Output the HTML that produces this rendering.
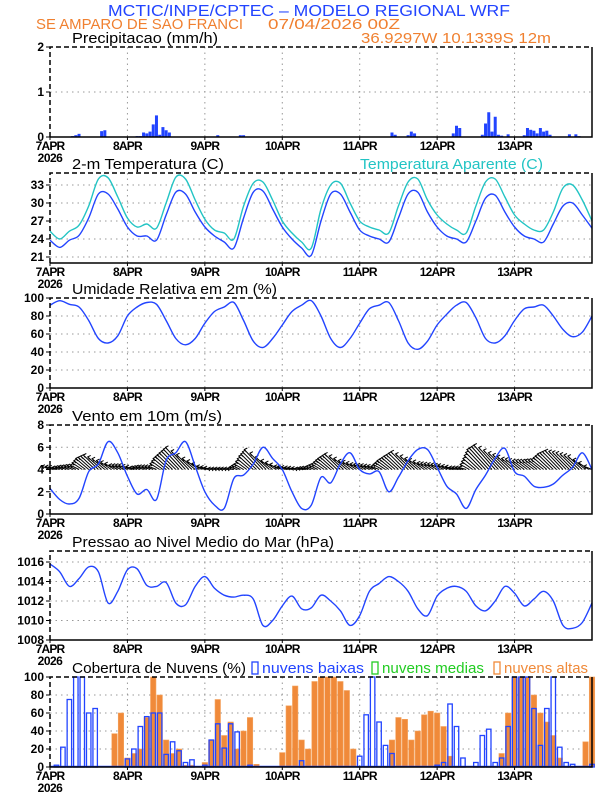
<!DOCTYPE html>
<html><head><meta charset="utf-8"><style>
html,body{margin:0;padding:0;background:#fff;}
svg{display:block;font-family:"Liberation Sans",sans-serif;}
</style></head><body>
<svg id="chart" width="612" height="792" viewBox="0 0 612 792" xmlns="http://www.w3.org/2000/svg">
<text x="108" y="16" fill="#2244ff" font-size="16" textLength="402" lengthAdjust="spacingAndGlyphs">MCTIC/INPE/CPTEC – MODELO REGIONAL WRF</text>
<text x="36" y="29" fill="#f08030" font-size="15" textLength="207" lengthAdjust="spacingAndGlyphs">SE AMPARO DE SAO FRANCI</text>
<text x="268" y="29" fill="#f08030" font-size="15" textLength="132" lengthAdjust="spacingAndGlyphs">07/04/2026 00Z</text>
<text x="361" y="43" fill="#f08030" font-size="15" textLength="190" lengthAdjust="spacingAndGlyphs">36.9297W 10.1339S 12m</text>
<g id="plots"></g>
</svg>
<script>
// ---- data ----
const dayLabels = ["7APR","8APR","9APR","10APR","11APR","12APR","13APR"];
const precipHour = [7,8,9,16,17,27,28,29,30,31,32,33,34,35,36,37,52,59,60,106,107,111,112,113,125,126,127,134,135,136,137,138,139,140,142,147,148,149,150,151,152,153,154,155,161,163,164];
const precipValue = [0.02,0.04,0.07,0.13,0.15,0.02,0.02,0.1,0.08,0.12,0.28,0.48,0.05,0.22,0.15,0.1,0.04,0.04,0.04,0.1,0.05,0.04,0.12,0.08,0.08,0.25,0.2,0.05,0.3,0.55,0.12,0.45,0.05,0.03,0.06,0.04,0.2,0.16,0.14,0.08,0.2,0.12,0.14,0.05,0.06,0.06,0.02];
const temp2m = [23.8,22.6,23.8,24.6,27.5,31.5,31.5,29.0, 26.0,24.5,24.5,23.8,28.0,31.8,31.5,28.5, 26.0,24.5,23.5,22.5,27.5,31.8,32.0,29.0, 26.0,24.0,22.5,21.3,27.0,31.5,31.5,28.5, 25.5,24.5,24.0,23.5,27.5,31.5,31.8,28.5, 26.0,24.5,24.0,23.5,27.0,30.8,31.3,28.5, 26.0,24.5,24.0,23.5,26.5,29.5,30.0,28.0, 25.8];
const tempApparent = [25.3,24.0,25.3,26.3,29.5,34.0,34.2,31.0, 27.5,26.0,26.5,25.8,30.0,34.3,34.0,30.5, 27.3,25.5,25.0,24.0,29.5,33.3,33.5,30.5, 27.0,25.0,23.5,22.5,29.0,33.0,33.3,30.0, 27.0,26.0,25.5,25.0,29.5,33.5,34.0,30.5, 28.0,26.5,25.5,25.0,29.5,33.5,34.0,31.0, 28.0,26.5,25.5,25.5,28.5,32.5,33.0,30.5, 27.0];
const relHumidity = [92,97,93,90,75,55,50,58, 80,90,95,93,75,55,48,55, 72,85,90,95,75,52,45,55, 70,85,92,97,80,55,45,55, 72,88,92,95,75,50,43,52, 70,82,92,95,78,55,50,58, 75,88,90,92,80,65,57,62, 80];
const windSpeed = [2.3,1.3,0.9,1.4,3.8,4.5,6.5,5.5, 3.4,1.8,2.2,1.3,4.8,5.5,6.5,4.3, 2.0,0.8,0.5,3.2,3.5,4.5,6.0,5.0, 4.0,2.0,0.5,0.8,3.3,2.8,4.5,5.5, 4.0,3.6,3.8,2.0,3.3,4.8,5.8,5.8, 4.2,2.5,1.8,0.5,2.2,3.5,5.0,5.9, 3.8,3.4,2.5,2.4,2.7,3.5,4.2,5.5, 4.0];
const windVecV = [0.3,0.2,0.3,0.4,1.0,1.3,0.8,0.4, 0.4,0.2,0.3,0.3,1.0,1.5,2.0,1.0, 0.3,0.1,0.1,0.1,0.5,1.2,1.8,0.8, 0.3,0.2,0.1,0.2,0.5,1.0,1.4,0.8, 0.5,0.4,0.3,0.8,1.2,1.6,1.0,0.6, 0.5,0.4,0.2,0.2,1.0,1.8,2.2,1.5, 1.0,0.8,0.8,0.9,1.4,1.7,1.5,1.2, 0.3];
const pressure = [1015.8,1015.0,1013.5,1014.3,1015.5,1015.0,1011.8,1013.0, 1015.2,1015.3,1013.6,1013.5,1013.9,1011.8,1011.6,1013.5, 1014.5,1013.3,1012.6,1012.4,1012.6,1012.2,1009.5,1010.0, 1011.5,1012.5,1011.2,1011.3,1012.6,1012.0,1011.0,1009.5, 1010.5,1013.0,1013.8,1014.5,1014.0,1013.0,1011.2,1010.5, 1012.5,1013.3,1013.5,1013.0,1011.5,1011.0,1012.0,1013.5, 1012.8,1011.5,1012.2,1013.0,1012.0,1009.5,1009.2,1009.8, 1011.8];
const lowCloud = [0,2,22,75,100,100,60,65,0,0,0,0, 9,20,45,56,60,60,14,28,18,5,8,0, 2,30,48,21,48,39,0,2,0,0,0,0, 0,0,0,7,0,0,0,0,0,0,0,0, 12,58,100,50,24,15,0,0,0,0,0,0, 2,5,70,45,10,0,5,35,42,5,10,45, 100,100,100,65,24,65,100,22,5,3,0,0, 3];
const highCloud = [0,0,0,0,0,0,0,0,0,0,37,60, 10,15,20,55,100,80,30,15,20,2,2,0, 5,30,75,35,50,20,40,55,3,0,0,0, 16,68,90,30,20,95,100,100,100,95,85,20, 0,0,0,0,0,30,55,53,30,40,58,62, 60,45,12,0,0,0,0,0,0,0,15,60, 100,100,100,80,60,50,35,10,0,0,0,28,100];
const y1Ticks=[0,1,2], y2Ticks=[21,24,27,30,33], y3Ticks=[0,20,40,60,80,100], y4Ticks=[0,2,4,6,8], y5Ticks=[1008,1010,1012,1014,1016], y6Ticks=[0,20,40,60,80,100];

// ---- layout ----
const NS="http://www.w3.org/2000/svg";
const X0=50, X1=592, HOURS=168;
const BLUE="#2244ff", CYAN="#22c4c4", ORANGE="#f08a3a";
const xh = h => X0 + h*(X1-X0)/HOURS;
const root=document.getElementById('plots');
function el(tag, attrs, parent){const e=document.createElementNS(NS,tag);for(const k in attrs)e.setAttribute(k,attrs[k]);(parent||root).appendChild(e);return e;}
function scale(top,bot,min,max){return v=> bot-(v-min)*(bot-top)/(max-min);}
function smooth(pts){let d="M"+pts[0][0].toFixed(1)+","+pts[0][1].toFixed(1);
 for(let i=0;i<pts.length-1;i++){const p0=pts[Math.max(0,i-1)],p1=pts[i],p2=pts[i+1],p3=pts[Math.min(pts.length-1,i+2)];
  const c1=[p1[0]+(p2[0]-p0[0])/6,p1[1]+(p2[1]-p0[1])/6],c2=[p2[0]-(p3[0]-p1[0])/6,p2[1]-(p3[1]-p1[1])/6];
  d+=" C"+c1[0].toFixed(1)+","+c1[1].toFixed(1)+" "+c2[0].toFixed(1)+","+c2[1].toFixed(1)+" "+p2[0].toFixed(1)+","+p2[1].toFixed(1);}
 return d;}

function panel(name,top,bot,ticks,y,title,titleW){
 const g=el('g',{});
 
 
 ticks.forEach(t=>{const yy=y(t); if(yy>top+1&&yy<bot-1){const l=el('line',{x1:X0,x2:X1,y1:yy,y2:yy,stroke:"#999","stroke-dasharray":"1.5,4","stroke-width":1},g);
  
  }});
 for(let d=1;d<7;d++){const l=el('line',{x1:xh(d*24),x2:xh(d*24),y1:top,y2:bot,stroke:"#999","stroke-dasharray":"1.5,4","stroke-width":1},g);
  
  }
 ticks.forEach(t=>{const tx=el('text',{x:X0-6,y:y(t)+4,"text-anchor":"end","font-size":12,"font-weight":"bold",fill:"#000"},g);tx.textContent=t;
  
  
  const tk=el('line',{x1:X0-4,x2:X0,y1:y(t),y2:y(t),stroke:"#000"},g);
  
  });
 dayLabels.forEach((lab,d)=>{const tx=el('text',{x:xh(d*24),y:bot+13,"text-anchor":"middle","font-size":12,"font-weight":"bold",fill:"#000","letter-spacing":"-0.8"},g);tx.textContent=lab;
  
  
  const tk=el('line',{x1:xh(d*24),x2:xh(d*24),y1:bot,y2:bot+3,stroke:"#000"},g);
  
  });
 const yr=el('text',{x:X0,y:bot+25,"text-anchor":"middle","font-size":12,"font-weight":"bold",fill:"#000","letter-spacing":"-0.5"},g);yr.textContent="2026";
 
 
 const tt=el('text',{x:72,y:top-4,"font-size":15,fill:"#000",textLength:titleW,lengthAdjust:"spacingAndGlyphs"},g);tt.textContent=title;
 
 
 const plot=el('g',{},g);
 
 
 const f1=el('path',{d:`M${X0},${bot} L${X0},${top} L${X1},${top}`,fill:"none",stroke:"#000","stroke-width":1.5,"stroke-dasharray":"5,3"},g);
 
 
 const f2=el('path',{d:`M${X1},${top} L${X1},${bot} L${X0},${bot}`,fill:"none",stroke:"#000","stroke-width":1.5},g);
 
 
 return plot;}

// Panel 1: precipitation
{const top=47,bot=137,y=scale(top,bot,0,2);
 const p=panel('precip-panel',top,bot,y1Ticks,y,"Precipitacao (mm/h)",146);
 precipHour.forEach((h,i)=>{const r=el('rect',{x:xh(h)-1.5,y:y(precipValue[i]),width:3,height:bot-y(precipValue[i]),fill:BLUE},p);
  
  });}

// Panel 2: temperature
{const top=173,bot=263,y=scale(top,bot,20,35);
 const p=panel('temperature-panel',top,bot,y2Ticks,y,"2-m Temperatura (C)",152);
 const lg=el('text',{x:360,y:top-4,"font-size":15,fill:CYAN,textLength:183,lengthAdjust:"spacingAndGlyphs"});lg.textContent="Temperatura Aparente (C)";
 
 
 const a=el('path',{d:smooth(tempApparent.map((v,i)=>[xh(i*3),y(v)])),fill:"none",stroke:CYAN,"stroke-width":1.4},p);
 
 
 const t=el('path',{d:smooth(temp2m.map((v,i)=>[xh(i*3),y(v)])),fill:"none",stroke:BLUE,"stroke-width":1.4},p);
 
 }

// Panel 3: RH
{const top=298,bot=388,y=scale(top,bot,0,100);
 const p=panel('humidity-panel',top,bot,y3Ticks,y,"Umidade Relativa em 2m (%)",205);
 const l=el('path',{d:smooth(relHumidity.map((v,i)=>[xh(i*3),y(v)])),fill:"none",stroke:BLUE,"stroke-width":1.4},p);
 
 }

// Panel 4: wind
{const top=425,bot=514,y=scale(top,bot,0,8);
 const p=panel('wind-panel',top,bot,y4Ticks,y,"Vento em 10m (m/s)",150);
 for(let h=0;h<=HOURS;h++){const i=Math.floor(h/3),f=(h%3)/3;const v=i+1<windVecV.length?windVecV[i]*(1-f)+windVecV[i+1]*f:windVecV[i];
  const x0=xh(h),y0=y(4),x1=x0-6-7*v,y1=y(4+v);
  const ar=el('path',{d:`M${x0},${y0} L${x1.toFixed(1)},${y1.toFixed(1)} M${(x1+3).toFixed(1)},${(y1-1.5).toFixed(1)} L${x1.toFixed(1)},${y1.toFixed(1)} L${(x1+2).toFixed(1)},${(y1+2.5).toFixed(1)}`,fill:"none",stroke:"#000","stroke-width":1},p);
  
  }
 const l=el('path',{d:smooth(windSpeed.map((v,i)=>[xh(i*3),y(v)])),fill:"none",stroke:BLUE,"stroke-width":1.4},p);
 
 }

// Panel 5: pressure
{const top=551,bot=640,y=scale(top,bot,1008,1017.13);
 const p=panel('pressure-panel',top,bot,y5Ticks,y,"Pressao ao Nivel Medio do Mar (hPa)",262);
 const l=el('path',{d:smooth(pressure.map((v,i)=>[xh(i*3),y(v)])),fill:"none",stroke:BLUE,"stroke-width":1.4},p);
 
 }

// Panel 6: clouds
{const top=677,bot=767,y=scale(top,bot,0,100);
 const p=panel('cloud-panel',top,bot,y6Ticks,y,"Cobertura de Nuvens (%)",174);
 const bw=(xh(2)-xh(0));
 highCloud.forEach((v,k)=>{if(v<=0)return;const r=el('rect',{x:xh(k*2)-bw/2+0.5,y:y(v),width:bw-1,height:bot-y(v),fill:ORANGE,stroke:"#f4a460","stroke-width":0.6},p);
  
  });
 lowCloud.forEach((v,k)=>{if(v<=0)return;const r=el('rect',{x:xh(k*2)-bw/2+1,y:y(v),width:bw-2,height:bot-y(v),fill:"none",stroke:BLUE,"stroke-width":1.3},p);
  
  });
 const base=el('line',{x1:X0,x2:X1,y1:bot-0.5,y2:bot-0.5,stroke:BLUE,"stroke-width":1.5},p);
 
 
 const legends=[["nuvens baixas",BLUE,252,112],["nuvens medias","#22cc22",372,112],["nuvens altas",ORANGE,494,94]];
 legends.forEach(([t,c,x,w])=>{const b=el('rect',{x:x,y:top-15,width:6,height:12,fill:"none",stroke:c,"stroke-width":1.3});
  
  
  const tx=el('text',{x:x+10,y:top-4,"font-size":15,fill:c,textLength:w-10,lengthAdjust:"spacingAndGlyphs"});tx.textContent=t;
  
  });}
</script>
</body></html>
